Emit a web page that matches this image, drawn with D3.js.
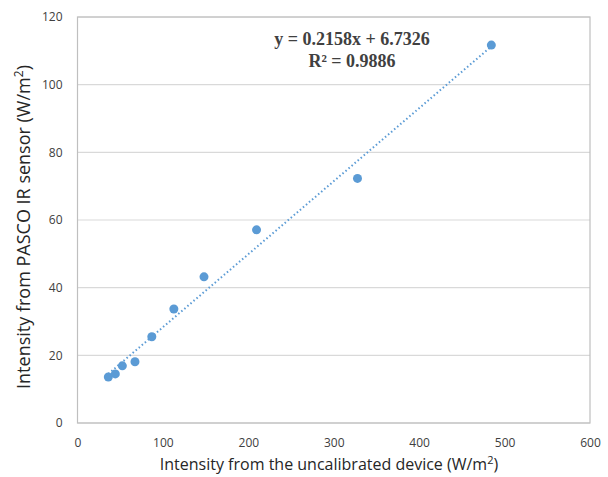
<!DOCTYPE html>
<html>
<head>
<meta charset="utf-8">
<script src="https://cdn.jsdelivr.net/npm/d3@7"></script>
<style>
  body { margin: 0; background: #fff; }
  svg { display: block; }
</style>
</head>
<body>
<script>
// readings: uncalibrated device vs PASCO sensor
const deviceIntensity = [36.1, 44.3, 52.5, 67.3, 87.0, 112.8, 148.1, 209.6, 327.8, 484.5];
const pascoIntensity = [13.6, 14.5, 16.9, 18.1, 25.5, 33.7, 43.2, 57.1, 72.3, 111.7];
const xTicks = [0, 100, 200, 300, 400, 500, 600];
const yTicks = [0, 20, 40, 60, 80, 100, 120];
const trendSlope = 0.2158, trendIntercept = 6.7326;
const trendLabels = ['y = 0.2158x + 6.7326', 'R\u00b2 = 0.9886'];

const width = 608, height = 477;
const margin = { top: 17, right: 18, bottom: 54, left: 77.5 };
const blue = '#5b9bd5';

const svg = d3.select('body')
    .append('svg')
    .attr('width', width)
    .attr('height', height);

const xScale = d3.scaleLinear()
    .domain([0, 600])
    .range([margin.left, width - margin.right]);

const yScale = d3.scaleLinear()
    .domain([0, 120])
    .range([height - margin.bottom, margin.top]);

// gridlines
svg.append('g')
    .selectAll('line')
    .data(yTicks)
    .enter()
    .append('line')
    .attr('x1', xScale(0))
    .attr('x2', xScale(600))
    .attr('y1', d => yScale(d))
    .attr('y2', d => yScale(d))
    .attr('stroke', '#d9d9d9')
    .attr('stroke-width', 1.2);

// plot frame
svg.append('rect')
    .attr('x', xScale(0))
    .attr('y', yScale(120))
    .attr('width', xScale(600) - xScale(0))
    .attr('height', yScale(0) - yScale(120))
    .attr('fill', 'none')
    .attr('stroke', '#bfbfbf')
    .attr('stroke-width', 1.2);

const xAxis = svg.append('g')
    .attr('transform', 'translate(0,' + (yScale(0) + 12) + ')')
    .call(d3.axisBottom(xScale).tickValues(xTicks).tickSize(0));

const yAxis = svg.append('g')
    .attr('transform', 'translate(' + (xScale(0) - 12) + ',0)')
    .call(d3.axisLeft(yScale).tickValues(yTicks).tickSize(0));

[xAxis, yAxis].forEach(ax => {
    ax.select('.domain').remove();
    ax.selectAll('text')
        .attr('font-family', 'Open Sans, sans-serif')
        .attr('font-size', 12)
        .attr('fill', '#404040');
});

// trendline across data range
const xExtent = d3.extent(deviceIntensity);
svg.append('line')
    .attr('x1', xScale(xExtent[0]))
    .attr('y1', yScale(trendSlope * xExtent[0] + trendIntercept))
    .attr('x2', xScale(xExtent[1]))
    .attr('y2', yScale(trendSlope * xExtent[1] + trendIntercept))
    .attr('stroke', blue)
    .attr('stroke-width', 2)
    .attr('stroke-dasharray', '1.5,2.5');

svg.append('g')
    .selectAll('circle')
    .data(deviceIntensity)
    .enter()
    .append('circle')
    .attr('cx', d => xScale(d))
    .attr('cy', (d, i) => yScale(pascoIntensity[i]))
    .attr('r', 4.5)
    .attr('fill', blue);

// equation label
svg.append('g')
    .selectAll('text')
    .data(trendLabels)
    .enter()
    .append('text')
    .text(d => d)
    .attr('x', 352)
    .attr('y', (d, i) => 45 + i * 22)
    .attr('text-anchor', 'middle')
    .attr('font-family', 'Liberation Serif, serif')
    .attr('font-weight', 'bold')
    .attr('font-size', 18)
    .attr('fill', '#404040');

// axis titles
const xTitle = svg.append('text')
    .attr('x', 329)
    .attr('y', 470)
    .attr('text-anchor', 'middle')
    .attr('font-family', 'Open Sans, sans-serif')
    .attr('font-size', 16)
    .attr('fill', '#262626');
xTitle.append('tspan').text('Intensity from the uncalibrated device (W/m');
xTitle.append('tspan').text('2').attr('font-size', 11).attr('dy', -6);
xTitle.append('tspan').text(')').attr('dy', 6);

const yTitle = svg.append('text')
    .attr('transform', 'translate(30,227) rotate(-90)')
    .attr('text-anchor', 'middle')
    .attr('font-family', 'Open Sans, sans-serif')
    .attr('font-size', 18)
    .attr('fill', '#262626');
yTitle.append('tspan').text('Intensity from PASCO IR sensor (W/m');
yTitle.append('tspan').text('2').attr('font-size', 12).attr('dy', -7);
yTitle.append('tspan').text(')').attr('dy', 7);
</script>
</body>
</html>
